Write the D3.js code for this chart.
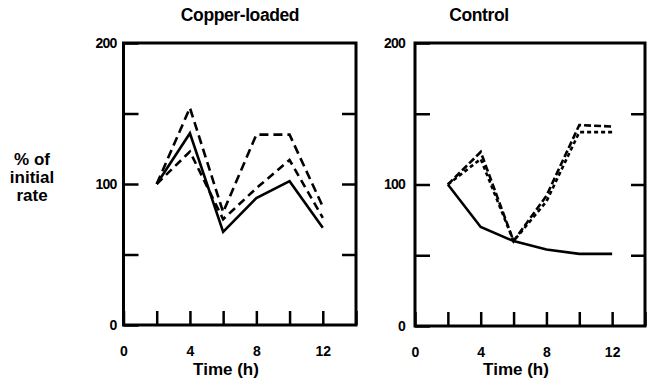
<!DOCTYPE html>
<html>
<head>
<meta charset="utf-8">
<script src="https://cdn.jsdelivr.net/npm/d3@7"></script>
<style>
  body { margin: 0; background: #fff; }
  text { font-family: "Liberation Sans", Arial, sans-serif; font-weight: bold; fill: #000; }
</style>
</head>
<body>
<div id="chart"></div>
<script>
// data
var hours = [2, 4, 6, 8, 10, 12];

var copperSolid = [100, 136, 66, 90, 102, 69];
var copperLongDash = [100, 154, 80, 135, 135, 84];
var copperDash = [100, 123, 75, 97, 117, 76];

var controlSolid = [100, 70, 60, 54, 51, 51];
var controlDash = [100, 123, 60, 92, 142, 141];
var controlDot = [100, 118, 60, 88, 137, 137];

var xTicks = [0, 2, 4, 6, 8, 10, 12, 14];
var xLabels = [0, 4, 8, 12];
var yTicks = [0, 50, 100, 150, 200];
var yLabels = [0, 100, 200];

var svgWidth = 647, svgHeight = 385;

var svg = d3.select("#chart")
  .append("svg")
  .attr("width", svgWidth)
  .attr("height", svgHeight);

// one panel
function drawPanel(opts) {
  var x = d3.scaleLinear().domain([0, 14]).range([opts.left, opts.right]);
  var y = d3.scaleLinear().domain([0, 200]).range([opts.bottom, opts.top]);

  var g = svg.append("g");

  // frame
  g.append("rect")
    .attr("x", x(0)).attr("y", y(200))
    .attr("width", x(14) - x(0)).attr("height", y(0) - y(200))
    .attr("fill", "none").attr("stroke", "#000").attr("stroke-width", 3);

  // bottom axis, ticks pointing inward
  var bottomAxis = d3.axisBottom(x)
    .tickValues(xTicks)
    .tickSize(-14)
    .tickPadding(21)
    .tickFormat(d => xLabels.indexOf(d) >= 0 ? d : "");
  var gx = g.append("g")
    .attr("transform", `translate(0, ${y(0)})`)
    .call(bottomAxis);
  gx.select(".domain").remove();
  gx.selectAll(".tick line").attr("stroke-width", 2.5);
  gx.selectAll(".tick text").style("font-size", "14px");

  // left axis
  var leftAxis = d3.axisLeft(y)
    .tickValues(yTicks)
    .tickSize(-15)
    .tickPadding(opts.labelPad)
    .tickFormat(d => yLabels.indexOf(d) >= 0 ? d : "");
  var gy = g.append("g")
    .attr("transform", `translate(${x(0)}, 0)`)
    .call(leftAxis);
  gy.select(".domain").remove();
  gy.selectAll(".tick line").attr("stroke-width", 2.5);
  gy.selectAll(".tick text").style("font-size", "14px").attr("letter-spacing", "-0.8px");

  // right axis, no labels
  var rightAxis = d3.axisRight(y)
    .tickValues([50, 100, 150])
    .tickSize(-14)
    .tickFormat("");
  var gr = g.append("g")
    .attr("transform", `translate(${x(14)}, 0)`)
    .call(rightAxis);
  gr.select(".domain").remove();
  gr.selectAll(".tick line").attr("stroke-width", 2.5);

  // lines
  var line = d3.line()
    .x((d, i) => x(hours[i]))
    .y(d => y(d));

  opts.series.forEach(function(s) {
    g.append("path")
      .datum(s.values)
      .attr("d", line)
      .attr("fill", "none")
      .attr("stroke", "#000")
      .attr("stroke-width", 2.6)
      .attr("stroke-linejoin", "miter")
      .attr("stroke-dasharray", s.dash);
  });

  // titles
  g.append("text")
    .attr("x", opts.titleX).attr("y", 21)
    .attr("text-anchor", "middle")
    .style("font-size", "17.5px")
    .attr("letter-spacing", "-0.4px")
    .text(opts.title);

  g.append("text")
    .attr("x", opts.xTitleX).attr("y", 375)
    .attr("text-anchor", "middle")
    .style("font-size", "17px")
    .text("Time (h)");
}

drawPanel({
  left: 123.5, right: 356, top: 43, bottom: 325,
  labelPad: 7,
  title: "Copper-loaded", titleX: 240, xTitleX: 226,
  series: [
    { values: copperSolid, dash: null },
    { values: copperLongDash, dash: "9,5" },
    { values: copperDash, dash: "8,5" }
  ]
});

drawPanel({
  left: 415, right: 645, top: 43, bottom: 326,
  labelPad: 10,
  title: "Control", titleX: 479, xTitleX: 516,
  series: [
    { values: controlSolid, dash: null },
    { values: controlDash, dash: "7,3" },
    { values: controlDot, dash: "4,3" }
  ]
});

// y axis title
var yTitle = svg.append("text")
  .attr("x", 32).attr("y", 165)
  .attr("text-anchor", "middle")
  .style("font-size", "17px");
["% of", "initial", "rate"].forEach(function(t, i) {
  yTitle.append("tspan").attr("x", 32).attr("dy", i === 0 ? 0 : 18).text(t);
});
</script>
</body>
</html>
